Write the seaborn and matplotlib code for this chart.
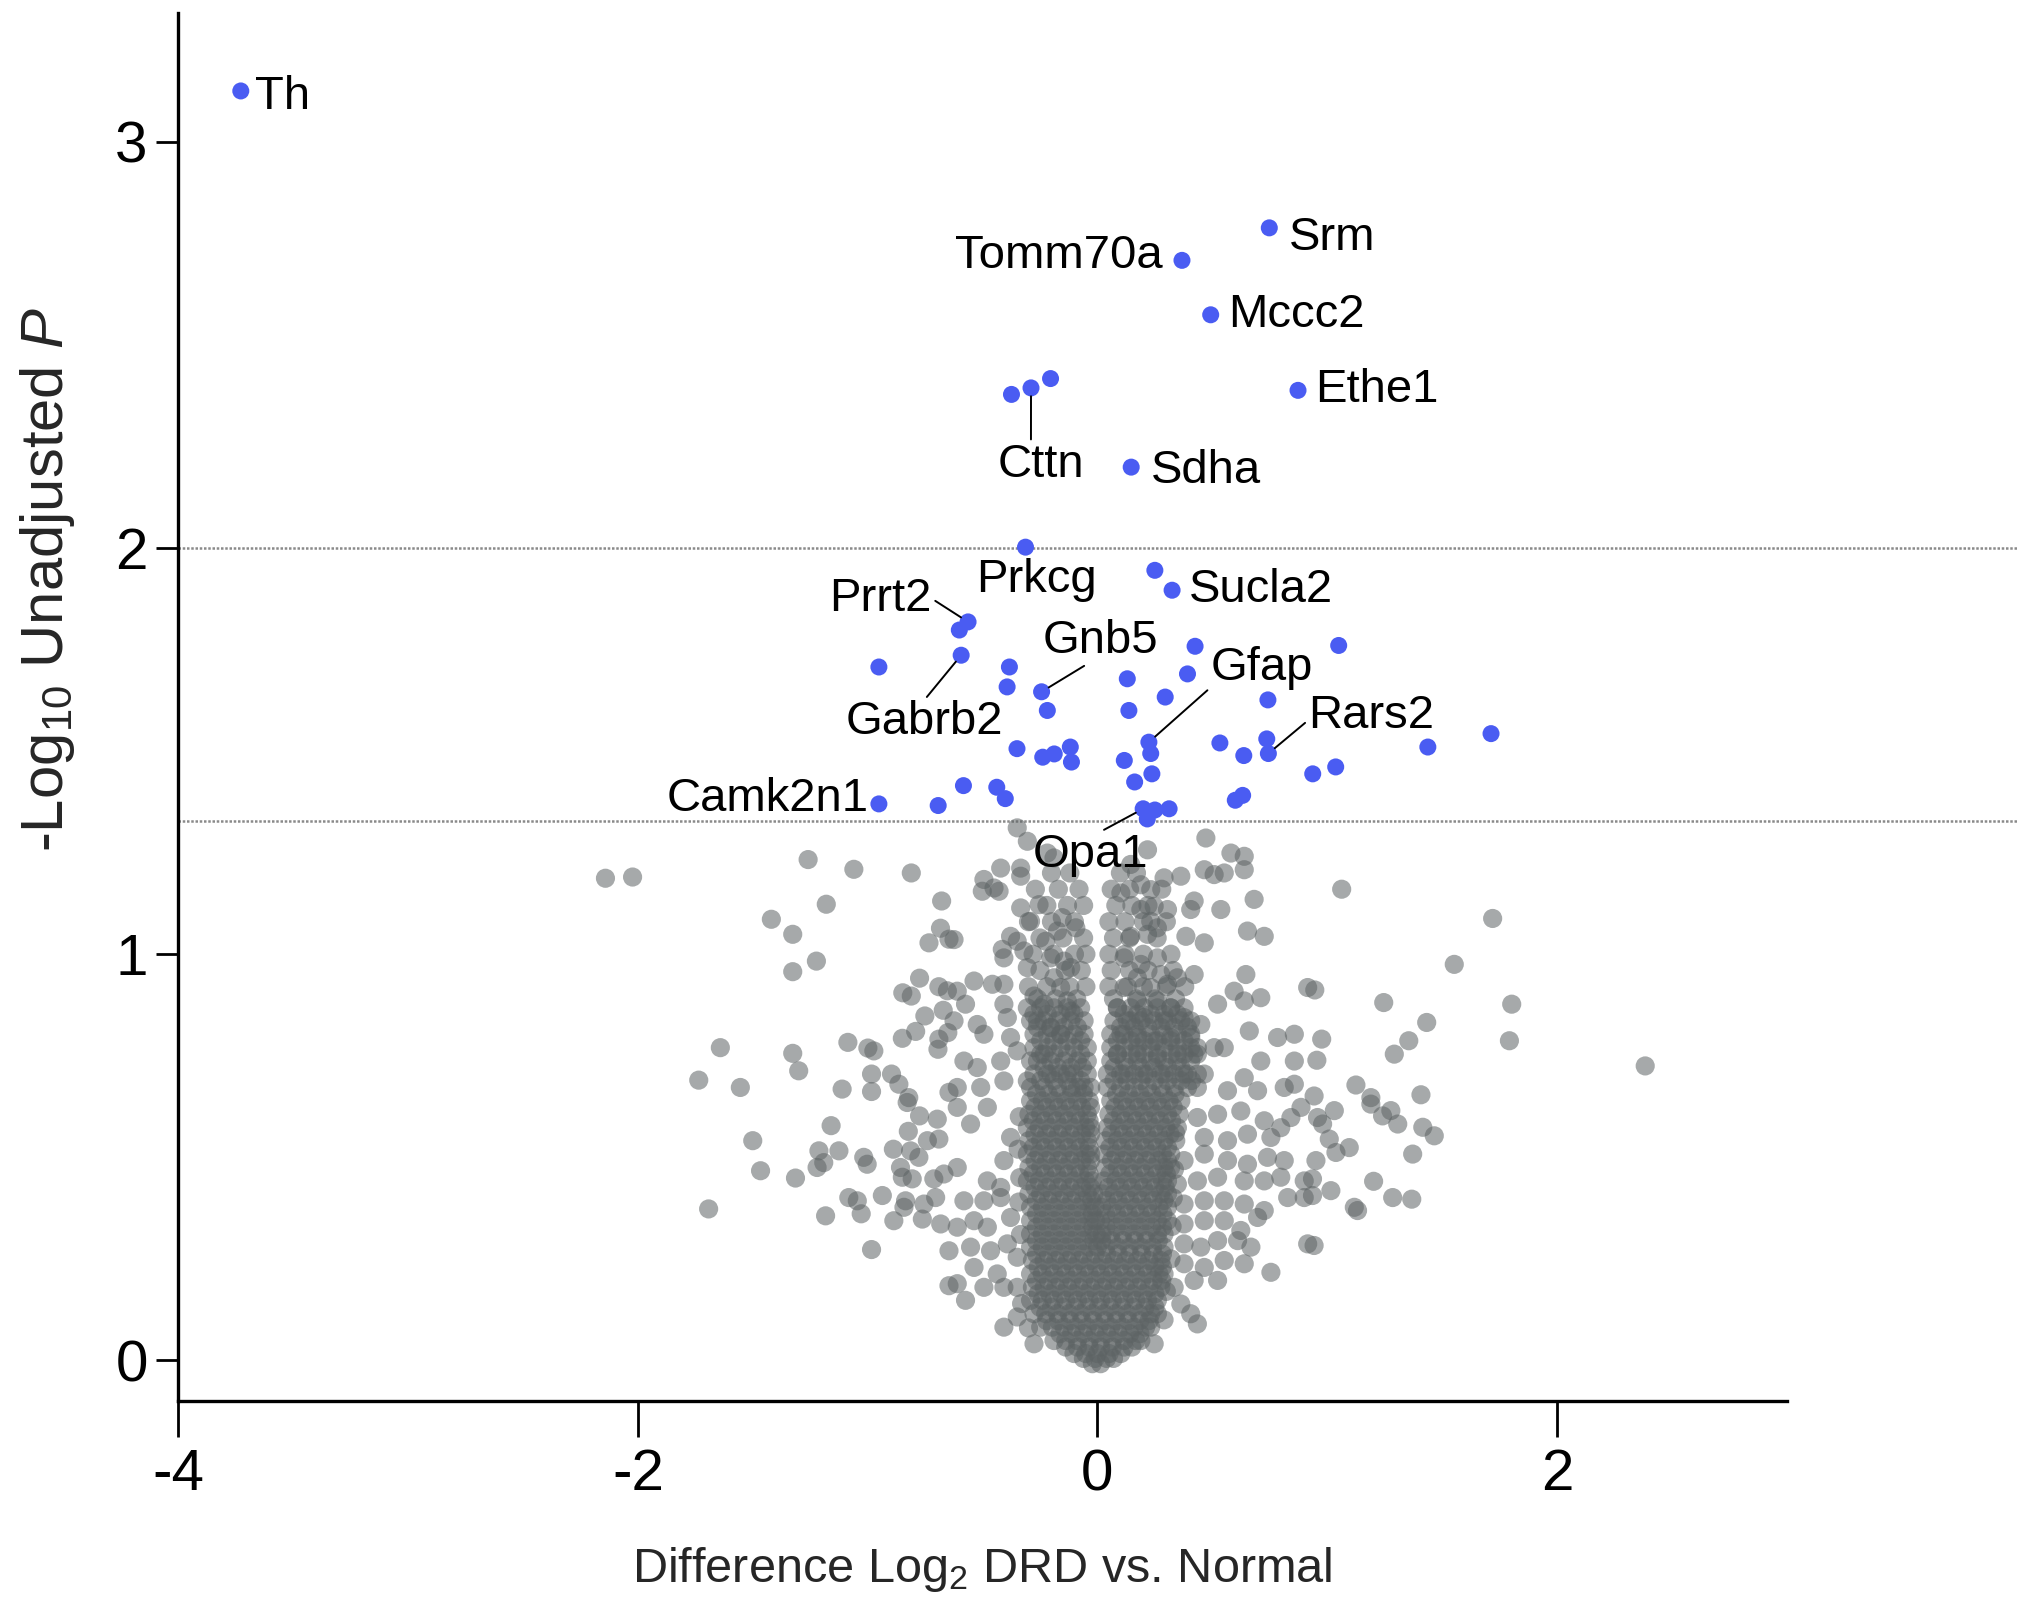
"""
Volcano plot: Difference Log2 DRD vs. Normal
"""
import numpy as np
import pandas as pd
import matplotlib
matplotlib.use('Agg')
import matplotlib.pyplot as plt
import seaborn as sns

# ------------------------------------------------------------------
# Data
# ------------------------------------------------------------------

# significant proteins (blue): (log2 difference, -log10 p)
sig_points = [
    (-3.728, 3.125), (0.748, 2.788), (0.368, 2.708), (0.493, 2.574), (0.873, 2.388),
    (-0.374, 2.378), (-0.289, 2.394), (-0.204, 2.417), (0.147, 2.199),
    (-0.313, 2.002), (0.250, 1.945), (0.325, 1.896),
    (-0.563, 1.818), (-0.601, 1.798), (-0.593, 1.736), (-0.951, 1.707),
    (-0.383, 1.707), (-0.393, 1.658), (-0.243, 1.646), (-0.218, 1.600),
    (0.130, 1.678), (0.137, 1.600), (0.295, 1.633), (0.392, 1.690), (0.425, 1.758),
    (1.050, 1.760), (0.742, 1.626), (0.737, 1.530), (0.744, 1.494),
    (0.533, 1.520), (0.637, 1.489), (1.438, 1.510), (1.713, 1.543),
    (0.937, 1.444), (1.037, 1.461),
    (-0.350, 1.506), (-0.238, 1.485), (-0.188, 1.493), (-0.118, 1.510), (-0.113, 1.473),
    (0.117, 1.477), (0.224, 1.522), (0.232, 1.494), (0.237, 1.444), (0.162, 1.424),
    (-0.951, 1.370), (-0.693, 1.366), (-0.583, 1.415), (-0.438, 1.411), (-0.401, 1.383),
    (0.199, 1.358), (0.250, 1.355), (0.312, 1.358), (0.217, 1.333),
    (0.600, 1.379), (0.632, 1.391),
]

# non-significant proteins (grey), left wing
grey_left = [
    (-2.141, 1.187), (-2.023, 1.190), (-1.259, 1.233), (-1.060, 1.209), (-0.810, 1.200),
    (-0.678, 1.131), (-1.180, 1.123), (-1.419, 1.086), (-1.326, 1.049), (-0.683, 1.064),
    (-0.733, 1.028), (-0.646, 1.037), (-1.223, 0.983), (-1.326, 0.957), (-0.774, 0.941),
    (-0.847, 0.905), (-0.810, 0.897), (-0.690, 0.920), (-0.653, 0.910), (-0.671, 0.862),
    (-0.751, 0.848), (-0.791, 0.810), (-0.849, 0.793), (-0.690, 0.791), (-0.694, 0.766),
    (-0.651, 0.807), (-1.086, 0.783), (-0.973, 0.762), (-0.999, 0.769), (-1.326, 0.756),
    (-1.300, 0.713), (-1.641, 0.770), (-1.735, 0.690), (-1.554, 0.672), (-1.111, 0.668),
    (-0.983, 0.705), (-0.983, 0.662), (-0.896, 0.705), (-0.864, 0.680), (-0.821, 0.647),
    (-0.646, 0.660),
    (-1.500, 0.541), (-1.466, 0.467), (-1.314, 0.449), (-1.692, 0.373), (-1.159, 0.578),
    (-1.212, 0.516), (-1.220, 0.475), (-1.125, 0.516), (-1.191, 0.487), (-1.017, 0.500),
    (-1.002, 0.483), (-1.082, 0.401), (-1.045, 0.393), (-1.028, 0.361), (-1.183, 0.356),
    (-0.936, 0.406), (-0.983, 0.273), (-0.886, 0.344), (-0.835, 0.393), (-0.842, 0.377),
    (-0.888, 0.520), (-0.823, 0.564), (-0.774, 0.602), (-0.697, 0.594), (-0.740, 0.541),
    (-0.690, 0.545), (-0.777, 0.500), (-0.813, 0.516), (-0.857, 0.475), (-0.849, 0.451),
    (-0.806, 0.447), (-0.712, 0.447), (-0.668, 0.459), (-0.755, 0.385), (-0.704, 0.401),
    (-0.762, 0.348), (-0.682, 0.336), (-0.646, 0.270), (-0.646, 0.184), (-0.828, 0.635),
]

# grey, right wing
grey_right = [
    (1.063, 1.160), (1.720, 1.088), (1.553, 0.975), (0.946, 0.912), (1.246, 0.881),
    (1.803, 0.877), (1.433, 0.832), (1.355, 0.787), (0.976, 0.791), (0.955, 0.739),
    (1.292, 0.754), (1.793, 0.787), (2.384, 0.725), (1.125, 0.678), (1.408, 0.654),
    (1.190, 0.647), (0.943, 0.651),
    (1.031, 0.615), (0.958, 0.598), (0.980, 0.582), (1.190, 0.631), (1.241, 0.602),
    (1.277, 0.615), (1.307, 0.582), (1.416, 0.574), (1.466, 0.553), (1.009, 0.545),
    (1.038, 0.512), (1.096, 0.524), (0.951, 0.492), (1.372, 0.508), (0.936, 0.447),
    (1.202, 0.441), (1.016, 0.418), (1.285, 0.401), (1.368, 0.397), (1.118, 0.377),
    (1.132, 0.369), (0.936, 0.406), (0.943, 0.283),
]

# grey, centre (upper part of the V)
grey_mid_upper = [
    (-0.349, 1.311), (-0.305, 1.278), (-0.218, 1.249), (-0.189, 1.237), (0.218, 1.257),
    (0.145, 1.221), (0.472, 1.286), (0.581, 1.249), (0.639, 1.241), (0.639, 1.208),
    (0.465, 1.208), (0.508, 1.196), (0.552, 1.200), (0.290, 1.188), (0.363, 1.192),
    (0.102, 1.151), (0.189, 1.171), (0.232, 1.159), (0.682, 1.135), (0.537, 1.110),
    (0.421, 1.131), (0.406, 1.110), (0.189, 1.110), (0.247, 1.118), (0.305, 1.110),
    (0.232, 1.081), (0.145, 1.044), (0.218, 1.049), (0.261, 1.065), (0.385, 1.044),
    (0.465, 1.028), (0.653, 1.057), (0.726, 1.044), (-0.421, 1.212), (-0.334, 1.212),
    (-0.334, 1.192), (-0.494, 1.184), (-0.501, 1.155), (-0.450, 1.163), (-0.428, 1.155),
    (-0.334, 1.114), (-0.254, 1.122), (-0.153, 1.090), (-0.094, 1.065), (-0.174, 1.057),
    (-0.291, 1.081), (-0.378, 1.044), (-0.349, 1.032), (-0.624, 1.036), (-0.414, 1.012),
    (-0.407, 0.991), (-0.305, 0.967), (-0.320, 1.008), (-0.225, 1.032), (-0.203, 0.991),
    (-0.145, 0.983), (-0.116, 0.967), (-0.189, 0.942), (-0.160, 0.918), (-0.537, 0.934),
    (-0.457, 0.926), (-0.407, 0.926), (-0.610, 0.909), (-0.574, 0.877), (-0.407, 0.877),
    (-0.392, 0.844), (-0.276, 0.897), (-0.232, 0.877), (-0.131, 0.885), (-0.116, 0.860),
    (-0.261, 0.836), (-0.203, 0.819), (-0.160, 0.803), (-0.624, 0.836), (-0.523, 0.827),
    (-0.494, 0.803), (-0.378, 0.795), (-0.349, 0.762), (-0.291, 0.737), (-0.232, 0.754),
    (-0.581, 0.737), (-0.523, 0.721), (-0.421, 0.737), (-0.407, 0.688), (-0.305, 0.688),
    (-0.203, 0.705), (-0.131, 0.705), (-0.087, 0.672), (-0.610, 0.672), (-0.508, 0.672),
    (0.116, 0.991), (0.189, 0.975), (0.261, 0.991), (0.276, 0.950), (0.174, 0.942),
    (0.116, 0.918), (0.232, 0.918), (0.305, 0.926), (0.348, 0.942), (0.087, 0.868),
    (0.174, 0.885), (0.261, 0.885), (0.319, 0.868), (0.145, 0.836), (0.203, 0.844),
    (0.290, 0.836), (0.377, 0.844), (0.450, 0.827), (0.102, 0.803), (0.174, 0.795),
    (0.247, 0.786), (0.319, 0.795), (0.406, 0.795), (0.087, 0.754), (0.174, 0.754),
    (0.261, 0.745), (0.348, 0.754), (0.435, 0.754), (0.116, 0.705), (0.203, 0.705),
    (0.290, 0.705), (0.377, 0.705), (0.465, 0.705), (0.421, 0.950), (0.523, 0.877),
    (0.595, 0.909), (0.639, 0.885), (0.711, 0.893), (0.646, 0.950), (0.661, 0.811),
    (0.784, 0.795), (0.857, 0.803), (0.508, 0.770), (0.552, 0.770), (0.711, 0.737),
    (0.857, 0.737), (0.639, 0.696), (0.566, 0.664), (0.697, 0.664), (0.857, 0.680),
    (0.915, 0.918), (0.813, 0.672),
]

# grey, centre (lower part, around the dense core)
grey_mid_lower = [
    (-0.610, 0.623), (-0.552, 0.582), (-0.479, 0.623), (-0.407, 0.492), (-0.378, 0.549),
    (-0.610, 0.475), (-0.479, 0.442), (-0.421, 0.426), (-0.581, 0.393), (-0.494, 0.393),
    (-0.421, 0.401), (-0.610, 0.328), (-0.537, 0.344), (-0.479, 0.328), (-0.378, 0.352),
    (-0.552, 0.279), (-0.465, 0.270), (-0.392, 0.287), (-0.537, 0.229), (-0.436, 0.213),
    (-0.349, 0.254), (-0.610, 0.189), (-0.574, 0.148), (-0.494, 0.180), (-0.407, 0.180),
    (-0.349, 0.180), (-0.407, 0.082), (-0.349, 0.107), (-0.276, 0.041),
    (-0.340, 0.600), (-0.345, 0.520), (-0.338, 0.450), (-0.342, 0.390), (-0.335, 0.310),
    (-0.330, 0.140), (-0.300, 0.080), (0.340, 0.560), (0.335, 0.470), (0.330, 0.400),
    (0.325, 0.330), (0.320, 0.250), (0.300, 0.170), (0.290, 0.100),
    (0.435, 0.598), (0.523, 0.606), (0.624, 0.614), (0.726, 0.590), (0.842, 0.598),
    (0.465, 0.549), (0.566, 0.541), (0.653, 0.557), (0.755, 0.549), (0.798, 0.573),
    (0.886, 0.623), (0.377, 0.492), (0.465, 0.508), (0.566, 0.492), (0.653, 0.483),
    (0.740, 0.500), (0.813, 0.492), (0.348, 0.434), (0.435, 0.442), (0.523, 0.451),
    (0.639, 0.442), (0.726, 0.442), (0.798, 0.451), (0.900, 0.442), (0.377, 0.385),
    (0.465, 0.393), (0.552, 0.393), (0.639, 0.385), (0.726, 0.369), (0.828, 0.401),
    (0.900, 0.401), (0.377, 0.336), (0.465, 0.344), (0.552, 0.344), (0.624, 0.320),
    (0.697, 0.352), (0.377, 0.287), (0.450, 0.279), (0.523, 0.295), (0.610, 0.295),
    (0.668, 0.279), (0.915, 0.287), (0.377, 0.238), (0.465, 0.229), (0.552, 0.246),
    (0.639, 0.238), (0.755, 0.217), (0.334, 0.180), (0.421, 0.197), (0.523, 0.197),
    (0.363, 0.139), (0.406, 0.115), (0.435, 0.090), (0.247, 0.041),
]

# upper arms of the V, one row per -log10 p level: (y, [x values])
arm_rows = [
    (1.20, [-0.20, -0.12, 0.10, 0.17]),
    (1.16, [-0.27, -0.17, -0.08, 0.06, 0.14, 0.28]),
    (1.12, [-0.22, -0.13, -0.06, 0.08, 0.15, 0.22]),
    (1.08, [-0.30, -0.20, -0.10, 0.05, 0.12, 0.20, 0.30]),
    (1.04, [-0.25, -0.15, -0.06, 0.07, 0.14, 0.26]),
    (1.00, [-0.28, -0.19, -0.10, -0.05, 0.05, 0.12, 0.20, 0.32]),
    (0.96, [-0.25, -0.14, -0.07, 0.06, 0.14, 0.22, 0.33]),
    (0.92, [-0.30, -0.22, -0.12, -0.05, 0.05, 0.13, 0.20, 0.30, 0.38]),
    (0.89, [-0.26, -0.18, -0.09, 0.07, 0.17, 0.25, 0.34]),
]

# dense core of the V: (y, [x values])
core_rows = [
    (0.868, [-0.305, -0.247, -0.189, -0.131, -0.073, 0.087, 0.145, 0.203, 0.261, 0.319, 0.377]),
    (0.852, [-0.276, -0.218, -0.160, -0.102, 0.116, 0.174, 0.232, 0.290, 0.348]),
    (0.836, [-0.291, -0.232, -0.174, -0.116, -0.058, 0.072, 0.130, 0.189, 0.247, 0.305, 0.363, 0.406]),
    (0.820, [-0.261, -0.203, -0.145, -0.087, 0.101, 0.160, 0.218, 0.276, 0.334, 0.392]),
    (0.803, [-0.276, -0.218, -0.160, -0.102, -0.058, 0.058, 0.116, 0.174, 0.232, 0.290, 0.348, 0.406]),
    (0.787, [-0.247, -0.189, -0.131, -0.073, 0.087, 0.145, 0.203, 0.261, 0.319, 0.377]),
    (0.770, [-0.276, -0.218, -0.160, -0.102, -0.044, 0.058, 0.116, 0.174, 0.232, 0.290, 0.348, 0.406, 0.435]),
    (0.754, [-0.247, -0.189, -0.131, -0.073, 0.087, 0.145, 0.203, 0.261, 0.319, 0.377, 0.420]),
    (0.737, [-0.261, -0.203, -0.145, -0.087, -0.044, 0.058, 0.116, 0.174, 0.232, 0.290, 0.348, 0.406]),
    (0.721, [-0.232, -0.174, -0.116, -0.065, 0.072, 0.130, 0.189, 0.247, 0.305, 0.363]),
    (0.705, [-0.276, -0.218, -0.160, -0.102, -0.044, 0.043, 0.101, 0.160, 0.218, 0.276, 0.334, 0.392, 0.435]),
    (0.689, [-0.247, -0.189, -0.131, -0.073, 0.072, 0.130, 0.189, 0.247, 0.305, 0.363, 0.410]),
    (0.672, [-0.291, -0.232, -0.174, -0.116, -0.058, -0.029, 0.043, 0.101, 0.160, 0.218, 0.276, 0.334, 0.392, 0.435]),
    (0.656, [-0.265, -0.214, -0.163, -0.112, -0.061, 0.083, 0.134, 0.185, 0.236, 0.287, 0.338]),
    (0.639, [-0.291, -0.240, -0.189, -0.138, -0.087, -0.036, 0.058, 0.109, 0.160, 0.210, 0.261, 0.312, 0.363]),
    (0.623, [-0.272, -0.221, -0.170, -0.119, -0.068, -0.030, 0.076, 0.127, 0.178, 0.229, 0.280, 0.330]),
    (0.606, [-0.298, -0.247, -0.196, -0.145, -0.094, -0.044, 0.050, 0.101, 0.152, 0.203, 0.254, 0.305, 0.356]),
    (0.590, [-0.280, -0.229, -0.178, -0.127, -0.076, -0.036, 0.068, 0.119, 0.170, 0.221, 0.272, 0.323]),
    (0.573, [-0.305, -0.254, -0.203, -0.152, -0.102, -0.051, -0.029, 0.043, 0.094, 0.145, 0.196, 0.247, 0.298, 0.348]),
    (0.557, [-0.272, -0.221, -0.170, -0.119, -0.068, -0.030, 0.061, 0.112, 0.163, 0.214, 0.265, 0.316]),
    (0.541, [-0.298, -0.247, -0.196, -0.145, -0.094, -0.044, 0.036, 0.087, 0.138, 0.189, 0.240, 0.290, 0.341]),
    (0.524, [-0.280, -0.229, -0.178, -0.127, -0.076, -0.036, 0.054, 0.105, 0.156, 0.207, 0.258, 0.305]),
    (0.508, [-0.305, -0.254, -0.203, -0.152, -0.102, -0.051, -0.029, 0.029, 0.080, 0.130, 0.181, 0.232, 0.283, 0.319]),
    (0.492, [-0.272, -0.221, -0.170, -0.119, -0.068, -0.030, 0.061, 0.112, 0.163, 0.214, 0.265, 0.305]),
    (0.475, [-0.298, -0.247, -0.196, -0.145, -0.094, -0.044, 0.036, 0.087, 0.138, 0.189, 0.240, 0.290, 0.319]),
    (0.459, [-0.280, -0.229, -0.178, -0.127, -0.076, -0.036, 0.054, 0.105, 0.156, 0.207, 0.258, 0.300]),
    (0.442, [-0.305, -0.254, -0.203, -0.152, -0.102, -0.051, -0.022, 0.029, 0.080, 0.130, 0.181, 0.232, 0.283, 0.305]),
    (0.426, [-0.272, -0.221, -0.170, -0.119, -0.068, -0.030, 0.047, 0.098, 0.149, 0.200, 0.250, 0.295]),
    (0.410, [-0.298, -0.247, -0.196, -0.145, -0.094, -0.044, -0.015, 0.022, 0.072, 0.123, 0.174, 0.225, 0.276, 0.305]),
    (0.394, [-0.265, -0.214, -0.163, -0.112, -0.061, -0.025, 0.040, 0.090, 0.141, 0.192, 0.243, 0.290]),
    (0.377, [-0.291, -0.240, -0.189, -0.138, -0.087, -0.036, -0.010, 0.018, 0.065, 0.116, 0.167, 0.218, 0.268, 0.305]),
    (0.361, [-0.265, -0.214, -0.163, -0.112, -0.061, -0.022, 0.036, 0.083, 0.134, 0.185, 0.236, 0.285]),
    (0.344, [-0.291, -0.240, -0.189, -0.138, -0.087, -0.036, -0.008, 0.014, 0.058, 0.109, 0.160, 0.210, 0.261, 0.305]),
    (0.328, [-0.265, -0.214, -0.163, -0.112, -0.061, -0.020, 0.036, 0.083, 0.134, 0.185, 0.236, 0.283]),
    (0.311, [-0.291, -0.240, -0.189, -0.138, -0.087, -0.036, -0.005, 0.020, 0.058, 0.109, 0.160, 0.210, 0.261, 0.290]),
    (0.295, [-0.265, -0.214, -0.163, -0.112, -0.061, -0.015, 0.018, 0.061, 0.112, 0.163, 0.214, 0.265]),
    (0.279, [-0.291, -0.240, -0.189, -0.138, -0.087, -0.036, 0.000, 0.036, 0.087, 0.138, 0.189, 0.240, 0.290]),
    (0.262, [-0.265, -0.214, -0.163, -0.112, -0.061, -0.010, 0.040, 0.090, 0.141, 0.192, 0.243, 0.283]),
    (0.246, [-0.283, -0.232, -0.181, -0.130, -0.080, -0.029, 0.022, 0.072, 0.123, 0.174, 0.225, 0.276]),
    (0.230, [-0.258, -0.207, -0.156, -0.105, -0.054, -0.004, 0.047, 0.098, 0.149, 0.200, 0.250, 0.283]),
    (0.213, [-0.291, -0.240, -0.189, -0.138, -0.087, -0.036, 0.014, 0.065, 0.116, 0.167, 0.218, 0.268, 0.290]),
    (0.197, [-0.265, -0.214, -0.163, -0.112, -0.061, -0.010, 0.040, 0.090, 0.141, 0.192, 0.243, 0.280]),
    (0.180, [-0.283, -0.232, -0.181, -0.130, -0.080, -0.029, 0.022, 0.072, 0.123, 0.174, 0.225, 0.276]),
    (0.164, [-0.258, -0.207, -0.156, -0.105, -0.054, -0.004, 0.047, 0.098, 0.149, 0.200, 0.250]),
    (0.148, [-0.291, -0.240, -0.189, -0.138, -0.087, -0.036, 0.014, 0.065, 0.116, 0.167, 0.218, 0.261]),
    (0.131, [-0.250, -0.200, -0.149, -0.098, -0.047, 0.004, 0.054, 0.105, 0.156, 0.207, 0.250]),
    (0.115, [-0.276, -0.225, -0.174, -0.123, -0.073, -0.022, 0.029, 0.080, 0.130, 0.181, 0.232, 0.261]),
    (0.098, [-0.221, -0.170, -0.119, -0.068, -0.018, 0.033, 0.083, 0.134, 0.185, 0.225]),
    (0.082, [-0.247, -0.196, -0.145, -0.094, -0.044, 0.007, 0.058, 0.109, 0.160, 0.210, 0.232]),
    (0.066, [-0.163, -0.112, -0.061, -0.010, 0.040, 0.090, 0.141, 0.185]),
    (0.049, [-0.189, -0.138, -0.087, -0.036, 0.014, 0.065, 0.116, 0.167, 0.189]),
    (0.033, [-0.138, -0.087, -0.036, 0.014, 0.065, 0.116, 0.150]),
    (0.017, [-0.102, -0.051, 0.000, 0.051, 0.102]),
    (0.005, [-0.061, -0.010, 0.040, 0.070]),
    (-0.008, [-0.022, 0.014]),
]

# gene labels: name and the (x, y) of the labelled protein
gene_names = ['Th', 'Srm', 'Tomm70a', 'Mccc2', 'Ethe1', 'Cttn', 'Sdha', 'Prkcg', 'Sucla2',
              'Prrt2', 'Gabrb2', 'Gnb5', 'Gfap', 'Rars2', 'Camk2n1', 'Opa1']
gene_x = [-3.728, 0.748, 0.368, 0.493, 0.873, -0.289, 0.147, -0.313, 0.325,
          -0.563, -0.593, -0.243, 0.224, 0.744, -0.951, 0.199]
gene_y = [3.125, 2.788, 2.708, 2.574, 2.388, 2.394, 2.199, 2.002, 1.896,
          1.818, 1.736, 1.646, 1.522, 1.494, 1.370, 1.358]

# thresholds drawn as dotted lines
thresholds = [2.0, 1.327]

# ------------------------------------------------------------------
# Tables
# ------------------------------------------------------------------
row_points = [(x, y) for y, xs in arm_rows + core_rows for x in xs]
grey_df = pd.DataFrame(grey_left + grey_right + grey_mid_upper + grey_mid_lower + row_points,
                       columns=['diff', 'logp'])
sig_df = pd.DataFrame(sig_points, columns=['diff', 'logp'])

# ------------------------------------------------------------------
# Style
# ------------------------------------------------------------------
sns.set_style("ticks")
plt.rcParams['font.family'] = ['Liberation Sans', 'DejaVu Sans']
plt.rcParams['mathtext.fontset'] = 'custom'
plt.rcParams['mathtext.rm'] = 'Liberation Sans'
plt.rcParams['mathtext.it'] = 'Liberation Sans:italic'
plt.rcParams['axes.unicode_minus'] = False

fig = plt.figure(figsize=(20.4, 16.19), dpi=100)
ax = fig.add_axes([0.0874, 0.1346, 0.9011, 0.8574])

sns.scatterplot(data=grey_df, x='diff', y='logp', color='#5d6364', alpha=0.55,
                s=190, edgecolor='none', linewidth=0, ax=ax, legend=False, zorder=2)
sns.scatterplot(data=sig_df, x='diff', y='logp', color='#4a5cf2',
                s=150, edgecolor='none', linewidth=0, ax=ax, legend=False, zorder=3)

for t in thresholds:
    ax.axhline(t, color='#8a8a8a', lw=1.8, ls=(0, (1, 0.7)), zorder=1)

# ------------------------------------------------------------------
# Gene labels (text position, alignment, leader-line anchor on the text)
# ------------------------------------------------------------------
label_layout = {
    'Th':      ((-3.666, 3.109), 'left', None),
    'Srm':     ((0.833, 2.763), 'left', None),
    'Tomm70a': ((0.283, 2.718), 'right', None),
    'Mccc2':   ((0.567, 2.574), 'left', None),
    'Ethe1':   ((0.946, 2.388), 'left', None),
    'Cttn':    ((-0.244, 2.205), 'center', (0.38, 1.0)),
    'Sdha':    ((0.232, 2.189), 'left', None),
    'Prkcg':   ((-0.266, 1.920), 'center', None),
    'Sucla2':  ((0.397, 1.897), 'left', None),
    'Prrt2':   ((-0.720, 1.875), 'right', (1.0, 0.5)),
    'Gabrb2':  ((-0.754, 1.571), 'center', (0.5, 1.0)),
    'Gnb5':    ((0.011, 1.772), 'center', (0.41, 0.0)),
    'Gfap':    ((0.493, 1.705), 'left', (0.07, 0.2)),
    'Rars2':   ((0.918, 1.587), 'left', (0.0, 0.4)),
    'Camk2n1': ((-0.997, 1.381), 'right', None),
    'Opa1':    ((-0.028, 1.244), 'center', (0.56, 1.0)),
}

for name, gx, gy in zip(gene_names, gene_x, gene_y):
    (tx, ty), ha, relpos = label_layout[name]
    if relpos is None:
        ax.text(tx, ty, name, ha=ha, va='center', fontsize=34, color='black', zorder=4)
    else:
        ax.annotate(name, xy=(gx, gy), xytext=(tx, ty), ha=ha, va='center',
                    fontsize=34, color='black', zorder=4,
                    arrowprops=dict(arrowstyle='-', color='black', lw=1.4,
                                    shrinkA=0, shrinkB=6, relpos=relpos))

# ------------------------------------------------------------------
# Axes
# ------------------------------------------------------------------
ax.set_xlim(-4, 4)
ax.set_ylim(-0.1, 3.317)
ax.set_xticks([-4, -2, 0, 2])
ax.set_yticks([0, 1, 2, 3])
ax.spines['top'].set_visible(False)
ax.spines['right'].set_visible(False)
ax.spines['bottom'].set_bounds(-4, 3)
for side in ['left', 'bottom']:
    ax.spines[side].set_linewidth(2.4)
    ax.spines[side].set_color('black')
ax.tick_params(axis='x', length=26, width=2, pad=8, labelsize=42, colors='black')
ax.tick_params(axis='y', length=16, width=2, pad=6, labelsize=42, colors='black')

ax.set_xlabel('Difference Log$_2$ DRD vs. Normal', fontsize=35)
ax.set_ylabel('-Log$_{10}$ Unadjusted $\\mathit{P}$', fontsize=43)
ax.xaxis.set_label_coords(0.4375, -0.104)
ax.yaxis.set_label_coords(-0.055, 0.592)
ax.grid(False)

fig.savefig('out.png', dpi=100)
plt.close(fig)
print("saved out.png")
